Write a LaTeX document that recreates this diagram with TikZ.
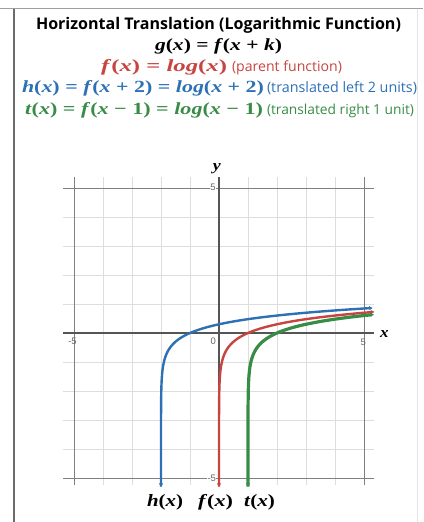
\documentclass[tikz,border=0pt]{standalone}
\usepackage{fontspec}
\setsansfont{Open Sans}
\newfontfamily\tickfont{Liberation Sans}
\newfontfamily\mserif{Liberation Serif}
\usetikzlibrary{arrows.meta}
\newcommand\vi[1]{\textit{#1}}
\newcommand\bmath[1]{{\mserif\bfseries #1}}
\definecolor{dred}{HTML}{C74440}
\definecolor{dblue}{HTML}{2D70B3}
\definecolor{dgreen}{HTML}{388C46}
\definecolor{axisgray}{HTML}{555555}
\definecolor{majgray}{HTML}{808080}
\definecolor{mingray}{HTML}{DDDDDD}
\definecolor{tickgray}{HTML}{666666}
\begin{document}
\begin{tikzpicture}[x=1bp,y=-1bp,
  txt/.style={anchor=base west,inner sep=0pt,outer sep=0pt},
  mtxt/.style={anchor=base,inner sep=0pt,outer sep=0pt},
  ticklab/.style={font=\tickfont\fontsize{9.5}{10}\selectfont,text=tickgray,inner sep=1pt},
  curve/.style={line width=2.4bp,{Latex[length=3.5bp,width=4.5bp]}-{Latex[length=3.5bp,width=4.5bp]}},
  axisline/.style={draw=axisgray,line width=1.3bp},
  majorline/.style={draw=majgray,line width=0.9bp},
  minorline/.style={draw=mingray,line width=0.8bp}]
\useasboundingbox (0,0) rectangle (423,522);
% frame
\draw[gray!75,line width=1bp] (0,9) -- (423,9);
\draw[gray!85!black,line width=1.1bp] (14,9) -- (14,522);
\draw[gray!20,line width=0.8bp] (417,9) -- (417,522);
% titles
\node[txt] (title) at (36,30) {\resizebox{365bp}{!}{\sffamily\bfseries Horizontal Translation (Logarithmic Function)}};
\node[txt] (gline) at (155,51) {\resizebox{127bp}{12bp}{\bmath{\vi{g}(\vi{x}) = \vi{f}(\vi{x} + \vi{k})}}};
\node[txt,text=dred] (fline) at (101,72) {\resizebox{126bp}{12bp}{\bmath{\vi{f}(\vi{x}) = \vi{log}(\vi{x})}}};
\node[txt,text=dred] (fnote) at (232,72) {\resizebox{110bp}{!}{\sffamily (parent function)}};
\node[txt,text=dblue] (hline) at (22,93) {\resizebox{242bp}{12bp}{\bmath{\vi{h}(\vi{x}) = \vi{f}(\vi{x} + 2) = \vi{log}(\vi{x} + 2)}}};
\node[txt,text=dblue] (hnote) at (267,93) {\resizebox{150bp}{!}{\sffamily (translated left 2 units)}};
\node[txt,text=dgreen] (tline) at (25,115) {\resizebox{238bp}{12bp}{\bmath{\vi{t}(\vi{x}) = \vi{f}(\vi{x} − 1) = \vi{log}(\vi{x} − 1)}}};
\node[txt,text=dgreen] (tnote) at (267,115) {\resizebox{147bp}{!}{\sffamily (translated right 1 unit)}};
% graph
\begin{scope}[shift={(219,333)},x=29bp,y=29bp]
  \foreach \i in {-4,-3,-2,-1,1,2,3,4} {
    \draw[minorline] (\i,-5.25) -- (\i,5.38);
    \draw[minorline] (-5.38,\i) -- (5.35,\i);
  }
  \draw[majorline] (-5,-5.25) -- (-5,5.38);
  \draw[majorline] (5,-5.25) -- (5,5.38);
  \draw[majorline] (-5.38,5) -- (5.35,5);
  \draw[majorline] (-5.38,-5) -- (5.35,-5);
  \draw[axisline] (-5.38,0) -- (5.35,0);
  \draw[axisline] (0,-5.25) -- (0,5.38);
  \node[ticklab] (tm5x) at (-5.05,-0.3) {-5};
  \node[ticklab] (t0) at (-0.2,-0.3) {0};
  \node[ticklab] (t5x) at (4.97,-0.31) {5};
  \node[ticklab,fill=white,inner sep=0.5pt] (t5y) at (-0.21,5.03) {5};
  \node[ticklab,fill=white,inner sep=0.5pt] (tm5y) at (-0.25,-5) {-5};
  \node[mtxt] (xlab) at (5.7,-0.14) {\resizebox{8.5bp}{7bp}{\bmath{\vi{x}}}};
  \node[mtxt] (ylab) at (-0.07,5.6) {\resizebox{8bp}{7bp}{\bmath{\vi{y}}}};
  \draw[curve,dblue] plot[domain=-5.31:0.868,samples=400] ({exp(\x*2.302585)-2},{\x});
  \draw[curve,dred] plot[domain=-5.31:0.731,samples=400] ({exp(\x*2.302585)},{\x});
  \draw[curve,dgreen,line width=3.2bp] plot[domain=-5.31:0.641,samples=400] ({exp(\x*2.302585)+1},{\x});
\end{scope}
% bottom labels
\node[txt] (hlab) at (147,506) {\resizebox{36bp}{12bp}{\bmath{\vi{h}(\vi{x})}}};
\node[txt] (flab) at (198,506) {\resizebox{35bp}{12bp}{\bmath{\vi{f}(\vi{x})}}};
\node[txt] (tlab) at (244,506) {\resizebox{31bp}{12bp}{\bmath{\vi{t}(\vi{x})}}};
\end{tikzpicture}
\end{document}
